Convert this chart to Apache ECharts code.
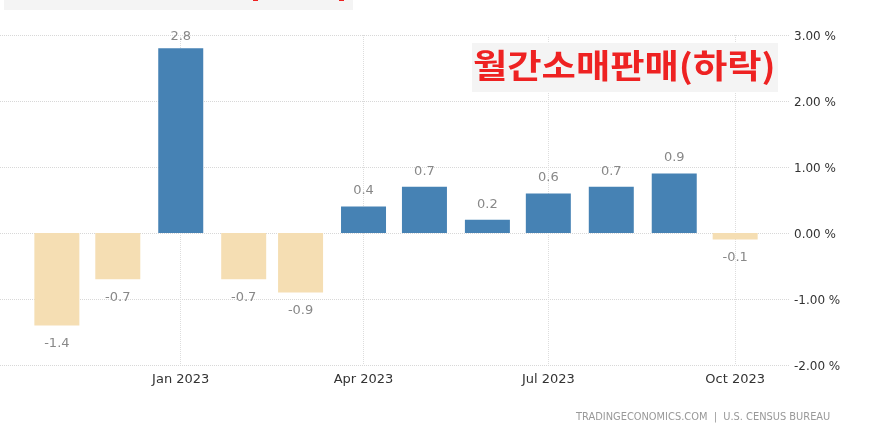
<!DOCTYPE html>
<html>
<head>
<meta charset="utf-8">
<style>
html,body{margin:0;padding:0;background:#fff}
#main{width:880px;height:438px}
</style>
<script src="https://cdn.jsdelivr.net/npm/echarts@6/dist/echarts.min.js"></script>
</head>
<body>
<div id="main"></div>
<script>
var months = ['2022-11-01','2022-12-01','2023-01-01','2023-02-01','2023-03-01','2023-04-01','2023-05-01','2023-06-01','2023-07-01','2023-08-01','2023-09-01','2023-10-01'];
var values = [-1.4,-0.7,2.8,-0.7,-0.9,0.4,0.7,0.2,0.6,0.7,0.9,-0.1];
var xTicks = ['2023-01-01','2023-04-01','2023-07-01','2023-10-01'];
var xTickLabels = ['Jan 2023','Apr 2023','Jul 2023','Oct 2023'];
var titleText = '월간소매판매(하락)';
var sourceText = 'TRADINGECONOMICS.COM  |  U.S. CENSUS BUREAU';

var font = '"DejaVu Sans", sans-serif';
function ms(d) { return Date.parse(d + 'T00:00:00Z'); }
var tickMs = xTicks.map(ms);

var barData = months.map(function (m, i) {
  var up = values[i] >= 0;
  // the tallest label sits closer to its bar, it is held inside the plot
  var gap = up ? (values[i] > 2.5 ? 5 : 9) : 12;
  return {
    value: [ms(m), values[i]],
    itemStyle: { color: up ? '#4682B4' : '#F5DEB3' },
    label: { position: up ? 'top' : 'bottom', distance: gap }
  };
});

var chart = echarts.init(document.getElementById('main'), null, { renderer: 'canvas' });
chart.setOption({
  animation: false,
  backgroundColor: '#fff',
  grid: { left: 0, right: 90, top: 35, bottom: 73 },
  xAxis: {
    type: 'value',
    min: ms('2022-10-04'),
    max: ms('2023-10-28'),
    axisLine: { show: false },
    axisTick: { show: true, length: 5, customValues: tickMs, lineStyle: { color: '#ddd', type: 'dotted' } },
    splitLine: { show: true, lineStyle: { color: '#ddd', type: 'dotted', width: 1 } },
    axisLabel: {
      customValues: tickMs,
      color: '#333',
      fontFamily: font,
      fontSize: 13,
      margin: 8,
      hideOverlap: false,
      formatter: function (v) { return xTickLabels[tickMs.indexOf(+v)] || ''; }
    }
  },
  yAxis: {
    type: 'value',
    position: 'right',
    min: -2,
    max: 3,
    interval: 1,
    axisLine: { show: false },
    axisTick: { show: false },
    splitLine: { show: true, lineStyle: { color: '#d8d8d8', type: 'dotted', width: 1 } },
    axisLabel: {
      color: '#333',
      fontFamily: font,
      fontSize: 12,
      margin: 4,
      verticalAlign: 'top',
      lineHeight: 4,
      formatter: function (v) { return v.toFixed(2) + ' %'; }
    }
  },
  series: [{
    type: 'bar',
    barWidth: 45,
    data: barData,
    label: {
      show: true,
      color: '#888',
      fontFamily: font,
      fontSize: 13,
      formatter: function (p) { return p.value[1].toFixed(1); }
    }
  }],
  graphic: [
    { type: 'rect', z: 10, shape: { x: 4, y: 0, width: 349, height: 10 }, style: { fill: '#f4f4f4' } },
    { type: 'rect', z: 11, shape: { x: 253, y: 0, width: 5, height: 1 }, style: { fill: '#ee2222' } },
    { type: 'rect', z: 11, shape: { x: 339, y: 0, width: 5, height: 1 }, style: { fill: '#ee2222' } },
    { type: 'rect', z: 10, shape: { x: 472, y: 43, width: 306, height: 49 }, style: { fill: '#f4f4f4' } },
    { type: 'text', z: 11, x: 473, y: 65, scaleX: 1.13, style: { text: titleText, fill: '#ee2222', font: 'bold 33px "Noto Sans CJK KR", sans-serif', textVerticalAlign: 'middle' } },
    { type: 'text', z: 11, x: 576, y: 417, style: { text: sourceText, fill: '#999', font: '9.85px ' + font, textVerticalAlign: 'middle' } }
  ]
});
</script>
</body>
</html>
